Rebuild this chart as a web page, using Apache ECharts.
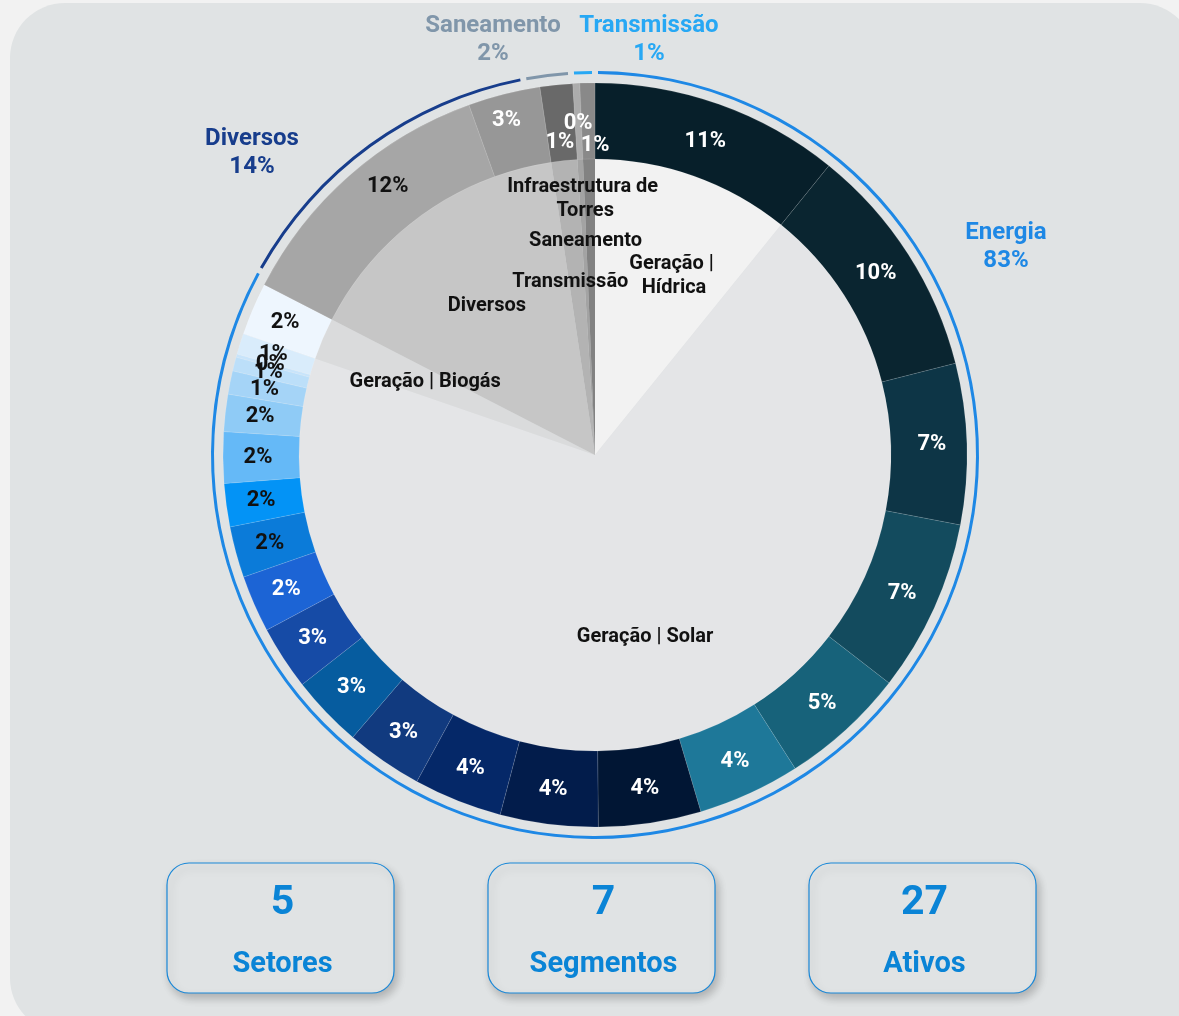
<!DOCTYPE html>
<html><head><meta charset="utf-8">
<script src="https://cdn.jsdelivr.net/npm/echarts@6/dist/echarts.min.js"></script>
<style>html,body{margin:0;padding:0;background:#f2f2f2;}#chart{width:1179px;height:1016px;}</style>
</head><body><div id="chart"></div>
<script>
// ---------- data ----------
const sectorNames = ['Energia', 'Diversos', 'Saneamento', 'Transmissão'];
const sectorValues = [83, 14, 2, 1];

const segmentNames = ['Geração | Hídrica', 'Geração | Solar', 'Geração | Biogás', 'Diversos', 'Transmissão', 'Saneamento', 'Infraestrutura de Torres'];
const segmentValues = [10.7, 68.69, 2.25, 14.9, 1.4, 0.3, 0.64];

const assetValues = [10.7, 10.1, 6.9, 7.4, 5.4, 4.4, 4.4, 4.2, 3.8, 3.3, 3.1, 2.75, 2.45, 2.2, 1.85, 2.2, 1.6, 1.0, 0.6, 0.14, 0.9, 2.25, 11.8, 3.1, 1.4, 0.3, 0.64];
const assetLabels = [11, 10, 7, 7, 5, 4, 4, 4, 4, 3, 3, 3, 2, 2, 2, 2, 2, 1, 1, 0, 1, 2, 12, 3, 1, 0, 1];

const kpiValues = [5, 7, 27];
const kpiLabels = ['Setores', 'Segmentos', 'Ativos'];

// ---------- styles / layout ----------
const CX = 595, CY = 455;
const FONT = 'Roboto';
const sectorColors = ['#1e88e5', '#173d8c', '#8096aa', '#27a8f4'];
const sectorLabelPos = [[1006, 247], [252, 153], [493, 40], [649, 40]];
const segmentColors = ['#f2f2f2', '#e4e5e7', '#dadbdc', '#c6c6c6', '#b3b3b3', '#a3a3a3', '#828282'];
const segmentNudge = [[16, -1], [-2, 0], [4, 1], [2, 5], [-5, 15], [0, -25], [-6, -67]];
const segmentWrap = {0: 110, 6: 170};
const assetColors = ['#071f2a', '#0a2530', '#0d3546', '#134b5e', '#17627a', '#1e7899', '#011634', '#021c4b', '#052868',
  '#113a7f', '#065c9f', '#164ba6', '#1c64d5', '#0b7bd9', '#0393f6', '#65b9f7', '#8fcbf6', '#a5d4f7', '#bcdff9',
  '#c8e4fa', '#d9ecfb', '#eef6fe', '#a6a6a6', '#979797', '#696969', '#acacac', '#898989'];
const assetTextDark = [13, 14, 15, 16, 17, 18, 19, 20, 21, 22];
const assetNudge = {0: [-2, 4], 1: [-3, 0], 22: [15, -15], 23: [-6, -8], 24: [0, 23], 25: [0, 5], 26: [7, 27]};

const chart = echarts.init(document.getElementById('chart'), null, {renderer: 'canvas'});

const option = {
  animation: false,
  graphic: {
    elements: [
      {type: 'rect', z: -10, shape: {x: 10, y: 3, width: 1185, height: 1030, r: 55}, style: {fill: '#e0e3e4'}},
    ].concat(kpiValues.flatMap((v, i) => {
      const bx = 167 + i * 321, by = 863, bw = 227, bh = 130;
      return [
        {type: 'rect', z: 1, shape: {x: bx, y: by, width: bw, height: bh, r: 22},
          style: {fill: '#e0e3e4', stroke: '#1a88d8', lineWidth: 1.2, shadowBlur: 8, shadowOffsetX: 3, shadowOffsetY: 5, shadowColor: 'rgba(0,0,0,0.22)'}},
        {type: 'text', z: 2, style: {text: String(v), x: bx + bw / 2 + 2, y: by + 41, align: 'center', verticalAlign: 'middle', textAlign: 'center', textVerticalAlign: 'middle',
          font: 'bold 41px ' + FONT, fill: '#0a84d6'}},
        {type: 'text', z: 2, style: {text: kpiLabels[i], x: bx + bw / 2 + 2, y: by + 102, align: 'center', verticalAlign: 'middle', textAlign: 'center', textVerticalAlign: 'middle',
          font: 'bold 29px ' + FONT, fill: '#0a84d6'}}
      ];
    }))
  },
  series: [
    {
      type: 'pie', name: 'Segmentos', center: [CX, CY], radius: [0, 372], startAngle: 90, silent: true,
      avoidLabelOverlap: false,
      label: {show: true, position: 'inside', formatter: '{b}', fontFamily: FONT, fontWeight: 'bold', fontSize: 20, lineHeight: 24, color: '#111', align: 'center'},
      labelLine: {show: false},
      labelLayout: p => ({dx: segmentNudge[p.dataIndex][0], dy: segmentNudge[p.dataIndex][1], hideOverlap: false}),
      emphasis: {disabled: true},
      data: segmentNames.map((n, i) => {
        const d = {name: n, value: segmentValues[i], itemStyle: {color: segmentColors[i]}};
        if (segmentWrap[i]) d.label = {width: segmentWrap[i], overflow: 'break'};
        return d;
      })
    },
    {
      type: 'pie', name: 'Ativos', center: [CX, CY], radius: [296, 372], startAngle: 90, silent: true,
      avoidLabelOverlap: false,
      itemStyle: {borderColor: 'rgba(255,255,255,0.22)', borderWidth: 0.5},
      label: {show: true, position: 'inside', formatter: p => assetLabels[p.dataIndex] + '%', fontFamily: FONT, fontWeight: 'bold', fontSize: 22},
      labelLine: {show: false},
      labelLayout: p => {
        const n = assetNudge[p.dataIndex] || [0, 0];
        return {dx: n[0], dy: n[1], hideOverlap: false};
      },
      emphasis: {disabled: true},
      data: assetValues.map((v, i) => ({
        name: 'Ativo ' + (i + 1), value: v,
        itemStyle: {color: assetColors[i]},
        label: {color: assetTextDark.indexOf(i) >= 0 ? '#111' : '#fff'}
      }))
    },
    {
      type: 'pie', name: 'Setores', center: [CX, CY], radius: [381, 384], startAngle: 90, silent: true, padAngle: 0.9,
      avoidLabelOverlap: false,
      label: {show: true, position: 'outside', formatter: '{b}\n{c}%', fontFamily: FONT, fontWeight: 'bold', fontSize: 24, lineHeight: 28},
      labelLine: {show: false},
      labelLayout: p => ({x: sectorLabelPos[p.dataIndex][0], y: sectorLabelPos[p.dataIndex][1], align: 'center', verticalAlign: 'middle', hideOverlap: false}),
      emphasis: {disabled: true},
      data: sectorNames.map((n, i) => ({name: n, value: sectorValues[i], itemStyle: {color: sectorColors[i]}, label: {color: sectorColors[i]}}))
    }
  ]
};
chart.setOption(option);
</script>
</body></html>
